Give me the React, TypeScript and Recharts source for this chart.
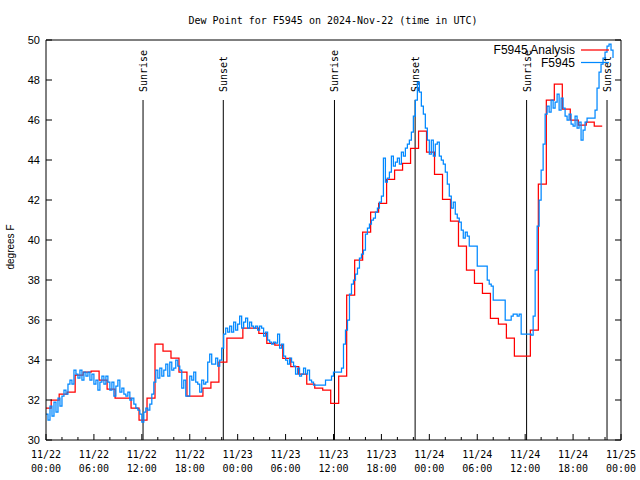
import React from 'react';
import { LineChart, Line, XAxis, YAxis, ReferenceLine } from 'recharts';

// Time is in hours since 11/22 00:00 UTC
const HOUR_TICKS = [0, 2, 4, 6, 8, 10, 12, 14, 16, 18, 20, 22, 24, 26, 28, 30, 32, 34, 36, 38, 40, 42, 44, 46, 48, 50, 52, 54, 56, 58, 60, 62, 64, 66, 68, 70, 72];
const DAY_LABELS = ['11/22', '11/23', '11/24', '11/25'];
const TIME_LABELS = ['00:00', '06:00', '12:00', '18:00'];
const DEW_TICKS = [30, 32, 34, 36, 38, 40, 42, 44, 46, 48, 50];

const SUNRISE_HOURS = [12.15, 36.12, 60.18];
const SUNSET_HOURS = [22.2, 46.22, 70.25];

// hourly analysis values, each one starts 0.35 h before the hour
const ANALYSIS_SHIFT = 0.35;
const ANALYSIS_VALUES = [
  31.6, 32.0, 32.3, 32.4, 33.25, 33.4, 33.45, 33.0, 32.55, 32.1,
  32.1, 31.6, 31.0, 32.1, 34.8, 34.45, 34.1, 33.4, 32.2, 32.2,
  32.6, 32.9, 33.9, 35.1, 35.1, 35.6, 35.6, 35.33, 34.83, 34.75,
  34.08, 33.67, 33.3, 32.8, 32.6, 32.5, 31.83, 33.2, 37.25, 39.0,
  40.4, 41.4, 41.83, 43.03, 43.5, 43.83, 44.58, 45.45, 44.4, 43.28,
  42.03, 40.95, 39.7, 38.5, 37.83, 37.33, 36.08, 35.8, 35.1, 34.2,
  34.2, 35.5, 42.8, 47.0, 47.8, 46.55, 46.0, 45.75, 45.9, 45.7,
];
const ANALYSIS_END = 69.65;

// station observations every 15 minutes
const STATION_STEP = 0.25;
const STATION_VALUES = [
  31.3, 31.0, 31.7, 31.2, // 00h
  31.9, 31.4, 32.1, 31.7,
  32.2, 32.5, 32.3, 32.8,
  33.0, 32.8, 33.5, 33.3,
  33.1, 33.5, 33.0, 33.4,
  33.2, 33.4, 33.0, 33.3,
  32.8, 33.0, 32.5, 32.9, // 06h
  33.2, 32.8, 33.2, 32.9,
  32.5, 32.9, 32.2, 32.7,
  33.0, 32.4, 32.6, 32.3,
  32.2, 32.4, 32.0, 32.1,
  31.8, 31.6, 31.5, 31.3,
  30.9, 31.4, 31.6, 31.5, // 12h
  31.8, 32.3, 32.9, 33.5,
  33.1, 33.6, 33.2, 33.5,
  33.8, 33.2, 33.9, 33.5,
  33.6, 34.0, 33.7, 33.5,
  32.6, 33.0, 32.2, 32.2,
  33.2, 33.0, 33.4, 32.9, // 18h
  32.8, 32.4, 33.0, 32.8,
  32.9, 33.9, 34.3, 33.8,
  33.8, 34.1, 33.7, 34.0,
  34.6, 35.3, 35.6, 35.4,
  35.7, 35.4, 35.9, 35.5,
  35.8, 36.2, 35.6, 35.9, // 24h
  36.1, 35.6, 35.9, 35.7,
  35.6, 35.7, 35.5, 35.7,
  35.6, 35.2, 35.4, 35.0,
  34.9, 34.8, 34.9, 34.85,
  35.3, 34.6, 34.8, 34.2,
  34.0, 33.8, 34.1, 33.9, // 30h
  33.7, 33.3, 33.6, 33.2,
  33.3, 33.6, 33.3, 33.5,
  33.0, 32.9, 32.75, 32.75,
  32.75, 32.75, 32.75, 32.75,
  33.0, 33.0, 33.0, 33.2,
  33.4, 33.4, 33.4, 33.4, // 36h
  33.6, 34.8, 35.5, 36.0,
  37.3, 37.8, 38.0, 38.3,
  38.6, 39.1, 39.3, 39.5,
  40.3, 40.6, 40.8, 41.0,
  41.1, 41.4, 41.6, 41.9,
  42.2, 44.1, 42.9, 43.1, // 42h
  43.4, 44.2, 43.7, 43.9,
  44.1, 43.8, 44.4, 44.2,
  44.6, 44.8, 45.0, 45.4,
  46.2, 47.0, 47.9, 47.4,
  46.7, 46.3, 45.6, 45.0,
  44.3, 45.0, 44.2, 44.8, // 48h
  44.9, 44.2, 44.0, 43.8,
  43.4, 42.8, 42.2, 41.6,
  41.9, 41.3, 41.1, 40.9,
  40.5, 40.1, 40.4, 40.2,
  39.7, 39.7, 39.7, 39.7,
  38.7, 38.7, 38.7, 38.7, // 54h
  38.7, 38.0, 37.8, 37.7,
  37.0, 37.0, 37.0, 37.0,
  37.0, 37.0, 36.0, 36.0,
  36.0, 36.2, 36.3, 36.3,
  36.2, 36.3, 35.3, 35.3,
  35.3, 35.3, 35.3, 35.25, // 60h
  36.2, 38.5, 40.7, 42.0,
  43.5, 44.8, 46.3, 46.7,
  46.4, 47.0, 46.6, 46.9,
  47.3, 46.5, 47.1, 46.6,
  46.2, 46.0, 46.3, 45.8,
  45.7, 46.2, 45.6, 45.9, // 66h
  45.0, 45.5, 45.9, 46.1,
  46.1, 46.1, 46.1, 46.5,
  47.6, 48.4, 48.8, 49.1,
  49.4, 49.7, 49.8, 49.5,
  49.1,
];

const analysisData = [
  ...ANALYSIS_VALUES.map((v, i) => ({ t: Math.max(0, i - ANALYSIS_SHIFT), v })),
  { t: ANALYSIS_END, v: ANALYSIS_VALUES[ANALYSIS_VALUES.length - 1] },
];
const stationData = STATION_VALUES.map((v, i) => ({ t: i * STATION_STEP, v }));

const MONO = "'DejaVu Sans Mono', monospace";
const SANS = "'Liberation Sans', Arial, sans-serif";
const RED = '#ff0000';
const BLUE = '#0088ff';

const SERIES = [
  { name: 'F5945 Analysis', color: RED },
  { name: 'F5945', color: BLUE },
];

const BottomTick = ({ x, y, payload }: any) => {
  const t = payload.value as number;
  const major = t % 6 === 0;
  return (
    <g>
      <line x1={x} y1={y} x2={x} y2={y - (major ? 6 : 3)} stroke="#000" />
      {major && (
        <text x={x} y={y + 18} textAnchor="middle" fontFamily={MONO} fontSize={10} fill="#000">
          <tspan x={x}>{DAY_LABELS[Math.floor(t / 24)]}</tspan>
          <tspan x={x} dy={14}>{TIME_LABELS[(t % 24) / 6]}</tspan>
        </text>
      )}
    </g>
  );
};

const TopTick = ({ x, y, payload }: any) => {
  const major = (payload.value as number) % 6 === 0;
  return <line x1={x} y1={y} x2={x} y2={y + (major ? 6 : 3)} stroke="#000" />;
};

const LeftTick = ({ x, y, payload }: any) => (
  <g>
    <line x1={x} y1={y} x2={x + 6} y2={y} stroke="#000" />
    <text x={x - 6} y={y + 4} textAnchor="end" fontFamily={SANS} fontSize={11} fill="#000">
      {payload.value}
    </text>
  </g>
);

const RightTick = ({ x, y }: any) => <line x1={x} y1={y} x2={x - 6} y2={y} stroke="#000" />;

const sunLabel = (text: string) => (props: any) => {
  const { x, y } = props.viewBox;
  const px = x + 4;
  const py = y - 8;
  return (
    <text x={px} y={py} transform={`rotate(-90 ${px} ${py})`} fontFamily={MONO} fontSize={10} fill="#000">
      {text}
    </text>
  );
};

export default function App() {
  return (
    <div style={{ position: 'absolute', left: 0, top: 0, width: 640, height: 480, background: '#fff' }}>
      <LineChart width={640} height={480} margin={{ top: 0, right: 0, bottom: 0, left: 0 }}>
        <XAxis
          dataKey="t"
          type="number"
          domain={[0, 72]}
          ticks={HOUR_TICKS}
          interval={0}
          height={40}
          tickSize={0}
          tickMargin={0}
          tickLine={false}
          tick={<BottomTick />}
          axisLine={{ stroke: '#000' }}
          allowDataOverflow
        />
        <XAxis
          xAxisId="top"
          orientation="top"
          type="number"
          domain={[0, 72]}
          ticks={HOUR_TICKS}
          interval={0}
          height={40}
          tickSize={0}
          tickMargin={0}
          tickLine={false}
          tick={<TopTick />}
          axisLine={{ stroke: '#000' }}
          allowDataOverflow
        />
        <YAxis
          type="number"
          domain={[30, 50]}
          ticks={DEW_TICKS}
          interval={0}
          width={46}
          tickSize={0}
          tickMargin={0}
          tickLine={false}
          tick={<LeftTick />}
          axisLine={{ stroke: '#000' }}
          allowDataOverflow
        />
        <YAxis
          yAxisId="right"
          orientation="right"
          type="number"
          domain={[30, 50]}
          ticks={DEW_TICKS}
          interval={0}
          width={19}
          tickSize={0}
          tickMargin={0}
          tickLine={false}
          tick={<RightTick />}
          axisLine={{ stroke: '#000' }}
          allowDataOverflow
        />
        {SUNRISE_HOURS.map((h) => (
          <ReferenceLine
            key={`rise-${h}`}
            segment={[{ x: h, y: 30 }, { x: h, y: 47 }]}
            stroke="#000"
            strokeWidth={1}
            label={sunLabel('Sunrise')}
          />
        ))}
        {SUNSET_HOURS.map((h) => (
          <ReferenceLine
            key={`set-${h}`}
            segment={[{ x: h, y: 30 }, { x: h, y: 47 }]}
            stroke="#000"
            strokeWidth={1}
            label={sunLabel('Sunset')}
          />
        ))}
        <Line
          data={analysisData}
          dataKey="v"
          name={SERIES[0].name}
          type="stepAfter"
          stroke={RED}
          strokeWidth={1.25}
          dot={false}
          activeDot={false}
          isAnimationActive={false}
        />
        <Line
          data={stationData}
          dataKey="v"
          name={SERIES[1].name}
          type="stepAfter"
          stroke={BLUE}
          strokeWidth={1.25}
          dot={false}
          activeDot={false}
          isAnimationActive={false}
        />
      </LineChart>
      <svg
        width={640}
        height={480}
        style={{ position: 'absolute', left: 0, top: 0, pointerEvents: 'none' }}
      >
        <text x={333} y={24} textAnchor="middle" fontFamily={MONO} fontSize={10} fill="#000">
          Dew Point for F5945 on 2024-Nov-22 (time in UTC)
        </text>
        <text
          x={14}
          y={247}
          transform="rotate(-90 14 247)"
          textAnchor="middle"
          fontFamily={SANS}
          fontSize={10}
          fill="#000"
        >
          degrees F
        </text>
        {SERIES.map((s, i) => (
          <g key={s.name}>
            <text x={575} y={54 + i * 12.5} textAnchor="end" fontFamily={SANS} fontSize={12} fill="#000">
              {s.name}
            </text>
            <line x1={581} y1={50 + i * 12.5} x2={609} y2={50 + i * 12.5} stroke={s.color} strokeWidth={1.25} />
          </g>
        ))}
      </svg>
    </div>
  );
}
